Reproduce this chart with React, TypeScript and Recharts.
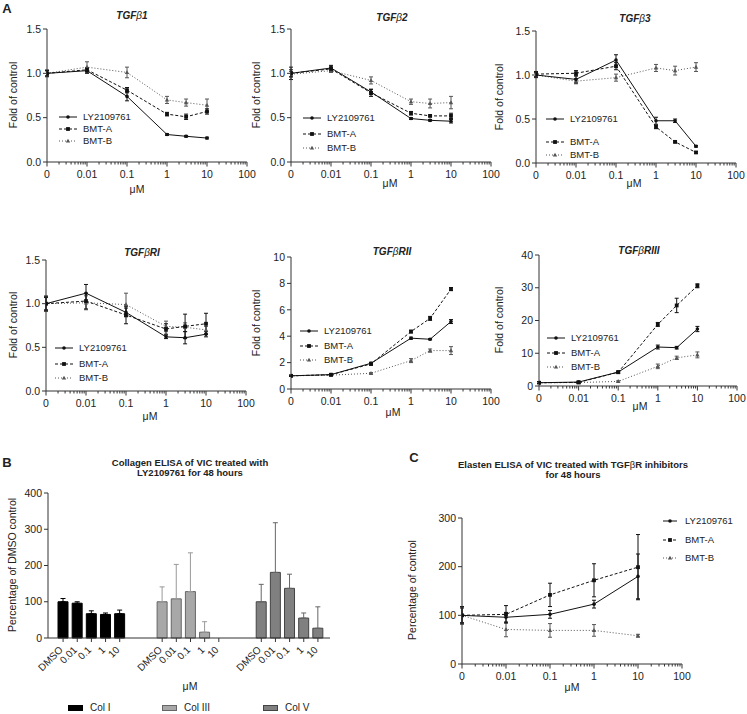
import { LineChart, Line, XAxis, YAxis, ErrorBar, BarChart, Bar } from "recharts";

const FONT = '"Liberation Sans", Arial, sans-serif';
const INK = "#222";
const AXIS = "#333";
const TICK_FONT = 10.5;

// doses in µM; 0.001 stands for the untreated "0" point on the log axis
const doses = [0.001, 0.01, 0.1, 1, 3, 10];
const elastinDoses = [0.001, 0.01, 0.1, 1, 10];

// TGFβ1
const tgfb1Ly = [1.0, 1.03, 0.74, 0.31, 0.29, 0.27];
const tgfb1LyErr = [0.03, 0.03, 0.05, 0.01, 0.01, 0.01];
const tgfb1A = [1.0, 1.04, 0.81, 0.54, 0.51, 0.57];
const tgfb1AErr = [0.03, 0.02, 0.03, 0.02, 0.03, 0.03];
const tgfb1B = [1.0, 1.07, 1.01, 0.7, 0.67, 0.64];
const tgfb1BErr = [0.04, 0.06, 0.06, 0.04, 0.04, 0.07];

// TGFβ2
const tgfb2Ly = [1.0, 1.06, 0.79, 0.49, 0.47, 0.46];
const tgfb2LyErr = [0.07, 0.03, 0.03, 0.01, 0.01, 0.02];
const tgfb2A = [1.0, 1.05, 0.78, 0.55, 0.52, 0.52];
const tgfb2AErr = [0.04, 0.03, 0.04, 0.02, 0.01, 0.03];
const tgfb2B = [0.99, 1.03, 0.92, 0.68, 0.66, 0.67];
const tgfb2BErr = [0.03, 0.02, 0.04, 0.03, 0.05, 0.07];

// TGFβ3
const tgfb3Ly = [1.0, 0.95, 1.17, 0.48, 0.48, 0.19];
const tgfb3LyErr = [0.03, 0.04, 0.06, 0.04, 0.02, 0.01];
const tgfb3A = [1.01, 1.02, 1.1, 0.41, 0.24, 0.12];
const tgfb3AErr = [0.03, 0.03, 0.04, 0.02, 0.01, 0.01];
const tgfb3B = [1.0, 0.93, 0.97, 1.08, 1.05, 1.09];
const tgfb3BErr = [0.02, 0.03, 0.04, 0.04, 0.05, 0.05];

// TGFβRI
const rILy = [1.0, 1.12, 0.9, 0.62, 0.61, 0.65];
const rILyErr = [0.07, 0.1, 0.05, 0.02, 0.07, 0.03];
const rIA = [1.0, 1.03, 0.87, 0.71, 0.74, 0.77];
const rIAErr = [0.08, 0.09, 0.1, 0.06, 0.14, 0.12];
const rIB = [1.0, 1.01, 0.99, 0.74, 0.73, 0.7];
const rIBErr = [0.09, 0.08, 0.13, 0.06, 0.05, 0.04];

// TGFβRII
const rIILy = [1.0, 1.09, 1.95, 3.85, 3.77, 5.11];
const rIILyErr = [0.05, 0.05, 0.08, 0.08, 0.05, 0.15];
const rIIA = [1.0, 1.08, 1.9, 4.35, 5.35, 7.57];
const rIIAErr = [0.05, 0.05, 0.1, 0.1, 0.15, 0.12];
const rIIB = [1.0, 1.05, 1.19, 2.15, 2.91, 2.91];
const rIIBErr = [0.05, 0.05, 0.05, 0.15, 0.12, 0.3];

// TGFβRIII
const rIIILy = [1.0, 1.2, 4.25, 11.9, 11.7, 17.4];
const rIIILyErr = [0.3, 0.3, 0.3, 0.6, 0.4, 0.8];
const rIIIA = [1.0, 1.1, 4.2, 18.8, 24.6, 30.6];
const rIIIAErr = [0.3, 0.3, 0.3, 0.6, 2.2, 0.6];
const rIIIB = [1.0, 1.05, 1.4, 6.0, 8.6, 9.5];
const rIIIBErr = [0.2, 0.2, 0.2, 0.7, 0.5, 0.9];

// elastin ELISA (% of control)
const elnLy = [100, 96, 102, 123, 180];
const elnLyErr = [15, 10, 8, 8, 46];
const elnA = [100, 102, 142, 172, 199];
const elnAErr = [18, 18, 24, 34, 67];
const elnB = [100, 71, 69, 69, 58];
const elnBErr = [17, 15, 14, 12, 3];

// collagen ELISA (% of DMSO control), upward SD only
const collagenDoseLabels = ["DMSO", "0.01", "0.1", "1", "10"];
const colI = [100, 96, 67, 65, 67];
const colIErr = [9, 4, 8, 4, 10];
const colIII = [100, 108, 128, 16, 0];
const colIIIErr = [41, 95, 107, 29, 22];
const colV = [100, 181, 137, 55, 27];
const colVErr = [48, 137, 39, 14, 59];

const logMajor = [0.001, 0.01, 0.1, 1, 10, 100];
const logTicks = logMajor.flatMap((m, i) =>
  i === logMajor.length - 1 ? [m] : [m, ...[2, 3, 4, 5, 6, 7, 8, 9].map((k) => +(m * k).toPrecision(3))]
);

const makeRows = (
  x: number[], ly: number[], lyErr: number[], a: number[], aErr: number[], b: number[], bErr: number[]
) => x.map((d, i) => ({ dose: d, ly: ly[i], lyErr: lyErr[i], a: a[i], aErr: aErr[i], b: b[i], bErr: bErr[i] }));

type Kind = "circle" | "square" | "triangle";
const seriesStyles: { key: string; name: string; color: string; dash?: string; marker: Kind }[] = [
  { key: "ly", name: "LY2109761", color: "#111", marker: "circle" },
  { key: "a", name: "BMT-A", color: "#111", dash: "3 2", marker: "square" },
  { key: "b", name: "BMT-B", color: "#555", dash: "1 2", marker: "triangle" },
];

const Marker = ({ kind, cx, cy, color }: { kind: Kind; cx: number; cy: number; color: string }) => {
  if (kind === "circle") return <circle cx={cx} cy={cy} r={1.8} fill={color} />;
  if (kind === "square") return <rect x={cx - 1.9} y={cy - 1.9} width={3.8} height={3.8} fill={color} />;
  return <path d={`M${cx},${cy - 2.3}L${cx + 2.2},${cy + 1.6}L${cx - 2.2},${cy + 1.6}Z`} fill={color} />;
};

const TICK_SIZE = 5;
const TICK_MARGIN = 3;

const renderLogTick = (p: any) => {
  const v = p.payload.value;
  const major = logMajor.includes(v);
  const axisY = p.y - TICK_SIZE - TICK_MARGIN;
  return (
    <g key={`t-${v}`}>
      <line x1={p.x} x2={p.x} y1={axisY} y2={axisY + (major ? 4.5 : 2.5)} stroke={AXIS} />
      {major && (
        <text x={p.x} y={axisY + 9} dy="0.71em" textAnchor="middle" fontSize={TICK_FONT} fill={INK} fontFamily={FONT}>
          {v === 0.001 ? "0" : String(v)}
        </text>
      )}
    </g>
  );
};

const Y_W = 50;
const M_TOP = 6;
const M_RIGHT = 10;
const X_H = 40;

type Box = { x: number; y: number; w: number; h: number };

const DoseChart = ({ rows, box, yMax, yTicks, yFmt }: { rows: any[]; box: Box; yMax: number; yTicks: number[]; yFmt: (v: number) => string }) => (
  <div style={{ position: "absolute", left: box.x - Y_W, top: box.y - M_TOP }}>
    <LineChart
      width={box.w + Y_W + M_RIGHT}
      height={box.h + M_TOP + X_H}
      data={rows}
      margin={{ top: M_TOP, right: M_RIGHT, left: 0, bottom: 0 }}
    >
      <XAxis
        type="number"
        dataKey="dose"
        scale="log"
        domain={[0.001, 100]}
        ticks={logTicks}
        interval={0}
        allowDataOverflow
        tickLine={false}
        tickSize={TICK_SIZE}
        tickMargin={TICK_MARGIN}
        height={X_H}
        stroke={AXIS}
        tick={renderLogTick}
      />
      <YAxis
        type="number"
        domain={[0, yMax]}
        ticks={yTicks}
        interval={0}
        allowDataOverflow
        tickFormatter={yFmt}
        width={Y_W}
        tickSize={4}
        tickMargin={2}
        stroke={AXIS}
        tick={{ fontSize: TICK_FONT, fill: INK, fontFamily: FONT }}
      />
      {[...seriesStyles].reverse().map((s) => (
        <Line
          key={s.key}
          type="linear"
          dataKey={s.key}
          stroke={s.color}
          strokeWidth={1}
          strokeDasharray={s.dash}
          dot={(p: any) => <Marker key={`${s.key}-${p.index}`} kind={s.marker} cx={p.cx} cy={p.cy} color={s.color} />}
          activeDot={false}
          isAnimationActive={false}
        >
          <ErrorBar dataKey={`${s.key}Err`} width={2} stroke={s.color} strokeWidth={1} direction="y" />
        </Line>
      ))}
    </LineChart>
  </div>
);

const Note = ({ x, y, children, size = 10.5, weight = 400, italic = false, rotate = 0, lh = 1.1 }: any) => (
  <div
    style={{
      position: "absolute",
      left: x,
      top: y,
      transform: `translate(-50%, -50%) rotate(${rotate}deg)`,
      fontSize: size,
      fontWeight: weight,
      fontStyle: italic ? "italic" : "normal",
      whiteSpace: "nowrap",
      lineHeight: lh,
      textAlign: "center",
    }}
  >
    {children}
  </div>
);

const SeriesLegend = ({ x, ys, sample = 18, gap = 6 }: { x: number; ys: number[]; sample?: number; gap?: number }) => (
  <>
    {seriesStyles.map((s, i) => (
      <div
        key={s.key}
        style={{ position: "absolute", left: x, top: ys[i] - 6, height: 12, display: "flex", alignItems: "center", fontSize: 9.5 }}
      >
        <svg width={sample} height={12} style={{ display: "block" }}>
          <line x1={0} x2={sample} y1={6} y2={6} stroke={s.color} strokeDasharray={s.dash} />
          <Marker kind={s.marker} cx={sample / 2} cy={6} color={s.color} />
        </svg>
        <span style={{ marginLeft: gap, lineHeight: 1 }}>{s.name}</span>
      </div>
    ))}
  </>
);

const beta = <span style={{ fontWeight: 400 }}>β</span>;
const fold = (v: number) => v.toFixed(1);

const dosePanels = [
  {
    title: <>TGF{beta}1</>, rows: makeRows(doses, tgfb1Ly, tgfb1LyErr, tgfb1A, tgfb1AErr, tgfb1B, tgfb1BErr),
    box: { x: 47, y: 29, w: 200, h: 133 }, yMax: 1.5, yTicks: [0, 0.5, 1, 1.5], yFmt: fold,
    titleAt: [132, 15], unitAt: [137, 190], yLabelAt: [14, 95], legendX: 59, legendYs: [117, 129, 141],
  },
  {
    title: <>TGF{beta}2</>, rows: makeRows(doses, tgfb2Ly, tgfb2LyErr, tgfb2A, tgfb2AErr, tgfb2B, tgfb2BErr),
    box: { x: 291, y: 29, w: 200, h: 133 }, yMax: 1.5, yTicks: [0, 0.5, 1, 1.5], yFmt: fold,
    titleAt: [392, 17], unitAt: [390, 184], yLabelAt: [257, 95], legendX: 303, legendYs: [118, 134, 148],
  },
  {
    title: <>TGF{beta}3</>, rows: makeRows(doses, tgfb3Ly, tgfb3LyErr, tgfb3A, tgfb3AErr, tgfb3B, tgfb3BErr),
    box: { x: 536, y: 31, w: 200, h: 132 }, yMax: 1.5, yTicks: [0, 0.5, 1, 1.5], yFmt: fold,
    titleAt: [635, 18], unitAt: [634, 184], yLabelAt: [500, 97], legendX: 546, legendYs: [119, 142, 155],
  },
  {
    title: <>TGF{beta}RI</>, rows: makeRows(doses, rILy, rILyErr, rIA, rIAErr, rIB, rIBErr),
    box: { x: 46, y: 260, w: 200, h: 131 }, yMax: 1.5, yTicks: [0, 0.5, 1, 1.5], yFmt: fold,
    titleAt: [142, 252], unitAt: [150, 417], yLabelAt: [14, 325], legendX: 55, legendYs: [348, 364, 378],
  },
  {
    title: <>TGF{beta}RII</>, rows: makeRows(doses, rIILy, rIILyErr, rIIA, rIIAErr, rIIB, rIIBErr),
    box: { x: 291, y: 257, w: 200, h: 132 }, yMax: 10, yTicks: [0, 2, 4, 6, 8, 10], yFmt: String,
    titleAt: [392, 251], unitAt: [393, 413], yLabelAt: [257, 323], legendX: 300, legendYs: [331, 346, 360],
  },
  {
    title: <>TGF{beta}RIII</>, rows: makeRows(doses, rIIILy, rIIILyErr, rIIIA, rIIIAErr, rIIIB, rIIIBErr),
    box: { x: 539, y: 255, w: 198, h: 131 }, yMax: 40, yTicks: [0, 10, 20, 30, 40], yFmt: String,
    titleAt: [639, 250], unitAt: [640, 407], yLabelAt: [500, 320], legendX: 547, legendYs: [338, 353, 367],
  },
];

const colGroups = [
  { key: "colI", name: "Col I", values: colI, errs: colIErr, fill: "#000", stroke: "#000", err: "#000" },
  { key: "colIII", name: "Col III", values: colIII, errs: colIIIErr, fill: "#a8a8a8", stroke: "#666", err: "#999" },
  { key: "colV", name: "Col V", values: colV, errs: colVErr, fill: "#808080", stroke: "#444", err: "#666" },
];

const barRows: any[] = [];
colGroups.forEach((g, gi) => {
  if (gi > 0) barRows.push({ slot: `gap${gi}a`, label: "" }, { slot: `gap${gi}b`, label: "" });
  collagenDoseLabels.forEach((lab, i) =>
    barRows.push({ slot: `${g.key}-${i}`, label: lab, [g.key]: g.values[i], [`${g.key}Err`]: [0, g.errs[i]] })
  );
});

const renderBarTick = (p: any) => {
  const row = barRows.find((r) => r.slot === p.payload.value);
  if (!row || !row.label) return <g key={`bt-${p.index}`} />;
  const axisY = p.y - 4 - 2;
  const tx = p.x - 2;
  const ty = axisY + 10;
  return (
    <g key={`bt-${p.index}`}>
      <line x1={p.x} x2={p.x} y1={axisY} y2={axisY + 4} stroke={AXIS} />
      <text
        x={tx}
        y={ty}
        dy="0.35em"
        textAnchor="end"
        fontSize={10}
        fill={INK}
        fontFamily={FONT}
        transform={`rotate(-45 ${tx} ${ty})`}
      >
        {row.label}
      </text>
    </g>
  );
};

const collagenBox = { x: 48, y: 493, w: 282, h: 145 };

const CollagenChart = () => (
  <div style={{ position: "absolute", left: collagenBox.x - Y_W, top: collagenBox.y - M_TOP }}>
    <BarChart
      width={collagenBox.w + Y_W + M_RIGHT}
      height={collagenBox.h + M_TOP + 50}
      data={barRows}
      margin={{ top: M_TOP, right: M_RIGHT, left: 0, bottom: 0 }}
      barGap={-10}
      barSize={10}
    >
      <XAxis
        dataKey="slot"
        interval={0}
        padding={{ left: 8, right: 5 }}
        tickLine={false}
        tickSize={4}
        tickMargin={2}
        height={50}
        stroke={AXIS}
        tick={renderBarTick}
      />
      <YAxis
        type="number"
        domain={[0, 400]}
        ticks={[0, 100, 200, 300, 400]}
        interval={0}
        width={Y_W}
        tickSize={4}
        tickMargin={2}
        stroke={AXIS}
        tick={{ fontSize: TICK_FONT, fill: INK, fontFamily: FONT }}
      />
      {colGroups.map((g) => (
        <Bar key={g.key} dataKey={g.key} fill={g.fill} stroke={g.stroke} strokeWidth={1} isAnimationActive={false}>
          <ErrorBar dataKey={`${g.key}Err`} width={2.5} stroke={g.err} strokeWidth={1} direction="y" />
        </Bar>
      ))}
    </BarChart>
  </div>
);

const collagenLegendX = [68, 162, 263];

export default function App() {
  return (
    <div
      style={{
        position: "absolute",
        left: 0,
        top: 0,
        width: 747,
        height: 714,
        background: "#fff",
        fontFamily: FONT,
        color: INK,
        overflow: "hidden",
      }}
    >
      <Note x={7} y={9} size={13} weight={700}>A</Note>
      <Note x={7} y={463} size={13} weight={700}>B</Note>
      <Note x={414} y={458} size={13} weight={700}>C</Note>

      {dosePanels.map((p, i) => (
        <div key={i}>
          <DoseChart rows={p.rows} box={p.box} yMax={p.yMax} yTicks={p.yTicks} yFmt={p.yFmt} />
          <Note x={p.titleAt[0]} y={p.titleAt[1]} size={10} weight={700} italic>{p.title}</Note>
          <Note x={p.unitAt[0]} y={p.unitAt[1]}>μM</Note>
          <Note x={p.yLabelAt[0]} y={p.yLabelAt[1]} rotate={-90}>Fold of control</Note>
          <SeriesLegend x={p.legendX} ys={p.legendYs} />
        </div>
      ))}

      {/* B: collagen bars */}
      <Note x={190} y={468} size={9.5} weight={700}>
        Collagen ELISA of VIC treated with
        <br />
        LY2109761 for 48 hours
      </Note>
      <CollagenChart />
      <Note x={13} y={565} rotate={-90}>Percentage of DMSO control</Note>
      <Note x={190} y={687}>μM</Note>
      {colGroups.map((g, i) => (
        <div
          key={g.key}
          style={{ position: "absolute", left: collagenLegendX[i], top: 702, height: 12, display: "flex", alignItems: "center", fontSize: 10 }}
        >
          <div style={{ width: 13, height: 4, background: g.fill, border: `1px solid ${g.stroke}` }} />
          <span style={{ marginLeft: 7, lineHeight: 1 }}>{g.name}</span>
        </div>
      ))}

      {/* C: elastin lines */}
      <Note x={573} y={470} size={9.5} weight={700}>
        Elasten ELISA of VIC treated with TGF{beta}R inhibitors
        <br />
        for 48 hours
      </Note>
      <DoseChart
        rows={makeRows(elastinDoses, elnLy, elnLyErr, elnA, elnAErr, elnB, elnBErr)}
        box={{ x: 462, y: 518, w: 220, h: 146 }}
        yMax={300}
        yTicks={[0, 100, 200, 300]}
        yFmt={String}
      />
      <Note x={413} y={590} rotate={-90}>Percentage of control</Note>
      <Note x={572} y={688}>μM</Note>
      <SeriesLegend x={663} ys={[521, 540, 558]} sample={14} gap={8} />
    </div>
  );
}
